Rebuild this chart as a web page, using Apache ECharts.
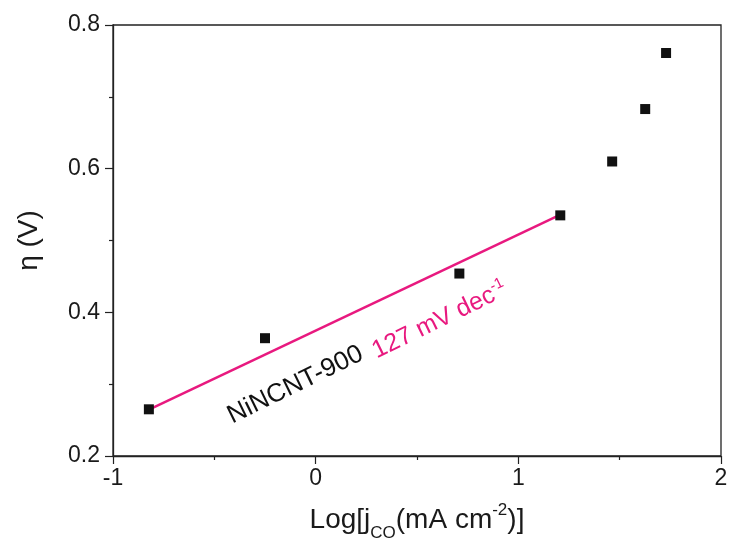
<!DOCTYPE html>
<html><head><meta charset="utf-8">
<script src="https://cdn.jsdelivr.net/npm/echarts@6/dist/echarts.min.js"></script>
<style>html,body{margin:0;padding:0;background:#fff}#c{width:737px;height:547px}</style>
</head><body><div id="c"></div>
<script>
const logJ = [-0.823, -0.25, 0.709, 1.207, 1.463, 1.626, 1.729];
const eta = [0.265, 0.364, 0.454, 0.535, 0.610, 0.683, 0.761];
const fitX = [-0.82, 1.2];
const fitY = [0.265, 0.535];
const xTicks = [-1, 0, 1, 2];
const yTicks = [0.2, 0.4, 0.6, 0.8];
const sampleLabel = 'NiNCNT-900';
const slopeLabel = '127 mV dec';
const labelPos = [[-0.10, 0.299], [0.612, 0.389]];

const FONT = 'Liberation Sans, Arial, sans-serif';
const PINK = '#E8197F';
const chart = echarts.init(document.getElementById('c'), null, {renderer: 'canvas'});
const axisCommon = {
  axisLine: {show: true, onZero: false, lineStyle: {color: '#222', width: 1.3}},
  axisTick: {show: true, inside: false, length: 8, lineStyle: {color: '#222', width: 1.2}},
  minorTick: {show: true, splitNumber: 2, length: 4, lineStyle: {color: '#222', width: 1.2}},
  splitLine: {show: false},
  axisLabel: {color: '#1a1a1a', fontSize: 23, fontFamily: FONT}
};
chart.setOption({
  animation: false,
  backgroundColor: '#fff',
  grid: {left: 113, right: 16, top: 25, bottom: 90, show: true, borderColor: '#222', borderWidth: 1.3},
  xAxis: Object.assign({}, axisCommon, {
    type: 'value', min: xTicks[0], max: xTicks[xTicks.length - 1], interval: 1,
    axisLabel: Object.assign({}, axisCommon.axisLabel, {margin: 11}),
    name: '{n|Log[j}{sub|CO}{n|(mA cm}{sup|-2}{n|)]}',
    nameLocation: 'middle', nameGap: 46,
    nameTextStyle: {rich: {
      n: {fontSize: 28, fontFamily: FONT, color: '#1a1a1a', verticalAlign: 'bottom', lineHeight: 32},
      sub: {fontSize: 17, fontFamily: FONT, color: '#1a1a1a', verticalAlign: 'bottom', lineHeight: 17, padding: [0,0,-8,0]},
      sup: {fontSize: 17, fontFamily: FONT, color: '#1a1a1a', verticalAlign: 'top', lineHeight: 17, padding: [0,0,14,0]}
    }}
  }),
  yAxis: Object.assign({}, axisCommon, {
    type: 'value', min: yTicks[0], max: yTicks[yTicks.length - 1], interval: 0.2,
    axisLabel: Object.assign({}, axisCommon.axisLabel, {margin: 13, formatter: v => v.toFixed(1)}),
    name: 'η (V)', nameLocation: 'middle', nameGap: 70, nameRotate: 90,
    nameTextStyle: {fontSize: 28, fontFamily: FONT, color: '#1a1a1a'}
  }),
  series: [
    {type: 'line', data: fitX.map((x, i) => [x, fitY[i]]), symbol: 'none',
     lineStyle: {color: PINK, width: 2.5}, z: 2},
    {type: 'scatter', data: logJ.map((x, i) => [x, eta[i]]), symbol: 'rect', symbolSize: 10,
     itemStyle: {color: '#111', opacity: 1}, z: 3}
  ]
});
const ang = 26 * Math.PI / 180;
const p1 = chart.convertToPixel({gridIndex: 0}, labelPos[0]);
const p2 = chart.convertToPixel({gridIndex: 0}, labelPos[1]);
chart.setOption({graphic: [
  {type: 'text', x: p1[0], y: p1[1], rotation: ang,
   style: {text: sampleLabel, fontSize: 26, fontFamily: FONT, fill: '#111', align: 'center', verticalAlign: 'middle'}},
  {type: 'text', x: p2[0], y: p2[1], rotation: ang,
   style: {text: '{a|' + slopeLabel + '}{s|-1}', align: 'center', verticalAlign: 'middle',
     rich: {a: {fontSize: 25, fontFamily: FONT, fill: PINK, color: PINK},
            s: {fontSize: 15, fontFamily: FONT, fill: PINK, color: PINK, verticalAlign: 'top', padding: [0,0,14,0]}}}}
]});
</script></body></html>
